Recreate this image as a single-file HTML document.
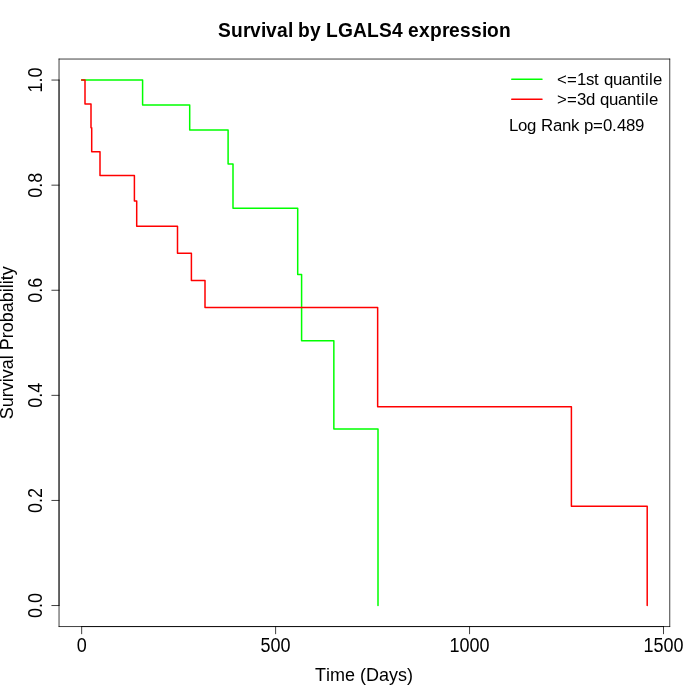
<!DOCTYPE html>
<html lang="en"><head><meta charset="utf-8"><title>Survival by LGALS4 expression</title>
<style>html,body{margin:0;padding:0;background:#fff;}svg{display:block;will-change:transform;}text{font-family:"Liberation Sans",Arial,Helvetica,sans-serif;fill:#000;}</style>
</head><body>
<svg width="700" height="700" viewBox="0 0 700 700">
<rect width="700" height="700" fill="#fff"/>
<g fill="none" stroke-width="1.5" stroke-linecap="round" stroke-linejoin="round">
<path d="M81.66 80.06 H142.60 V105.08 H189.70 V130.11 H228.10 V164.07 H233.00 V208.21 H297.70 V274.43 H301.60 V340.66 H333.85 V428.95 H378.00 V605.54" stroke="#00ff00"/>
<path d="M81.66 80.06 H85.00 V103.95 H91.00 V127.83 H91.70 V151.72 H100.00 V175.60 H134.40 V200.89 H136.70 V226.18 H177.50 V253.28 H191.40 V280.38 H205.00 V307.47 H377.65 V406.83 H571.40 V506.18 H647.20 V605.54" stroke="#ff0000"/>
</g>
<g fill="none" stroke="#000" stroke-width="0.75" stroke-linecap="round" stroke-linejoin="round">
<path d="M81.66 626.56 H663.51"/>
<path d="M81.66 626.56 v7.2"/>
<path d="M275.61 626.56 v7.2"/>
<path d="M469.56 626.56 v7.2"/>
<path d="M663.51 626.56 v7.2"/>
<path d="M59.04 605.54 V80.06"/>
<path d="M59.04 605.54 h-7.2"/>
<path d="M59.04 500.44 h-7.2"/>
<path d="M59.04 395.35 h-7.2"/>
<path d="M59.04 290.25 h-7.2"/>
<path d="M59.04 185.16 h-7.2"/>
<path d="M59.04 80.06 h-7.2"/>
<path d="M59.04 626.56 H669.76"/>
<path d="M669.76 626.56 V59.04"/>
<path d="M669.76 59.04 H59.04"/>
<path d="M59.04 59.04 V626.56"/>
<path d="M511.75 79.2 h30.24" stroke="#00ff00" stroke-width="1.5"/>
<path d="M511.75 99.36 h30.24" stroke="#ff0000" stroke-width="1.5"/>
</g>
<text transform="translate(81.66 651.60) scale(1 1.0944)" font-size="18px" x="-5">0</text>
<text transform="translate(275.61 651.60) scale(1 1.0944)" font-size="18px" x="-15 -5 5">500</text>
<text transform="translate(469.56 651.60) scale(1 1.0944)" font-size="18px" x="-20 -10 0 10">1000</text>
<text transform="translate(663.51 651.60) scale(1 1.0944)" font-size="18px" x="-20 -10 0 10">1500</text>
<text transform="translate(41.80 605.54) rotate(-90) scale(1 1.0944)" font-size="18px" x="-12.5 -2.5 2.5">0.0</text>
<text transform="translate(41.80 500.44) rotate(-90) scale(1 1.0944)" font-size="18px" x="-12.5 -2.5 2.5">0.2</text>
<text transform="translate(41.80 395.35) rotate(-90) scale(1 1.0944)" font-size="18px" x="-12.5 -2.5 2.5">0.4</text>
<text transform="translate(41.80 290.25) rotate(-90) scale(1 1.0944)" font-size="18px" x="-12.5 -2.5 2.5">0.6</text>
<text transform="translate(41.80 185.16) rotate(-90) scale(1 1.0944)" font-size="18px" x="-12.5 -2.5 2.5">0.8</text>
<text transform="translate(41.80 80.06) rotate(-90) scale(1 1.0944)" font-size="18px" x="-12.5 -2.5 2.5">1.0</text>
<text transform="translate(364.00 681.20) scale(1 1.0600)" font-size="18px" x="-49 -38 -34 -19 -9 -4 2 15 25 34 43">Time (Days)</text>
<text transform="translate(12.90 342.80) rotate(-90) scale(1 1.0600)" font-size="18px" x="-76.5 -64.5 -54.5 -48.5 -39.5 -35.5 -26.5 -16.5 -12.5 -7.5 4.5 10.5 20.5 30.5 40.5 50.5 54.5 58.5 62.5 67.5">Survival Probability</text>
<text transform="translate(364.40 37.00) scale(1 1.0625)" font-size="19.2px" font-weight="bold" x="-146.5 -133.5 -121.5 -114.5 -103.5 -98.5 -87.5 -76.5 -71.5 -66.5 -54.5 -43.5 -38.5 -26.5 -11.5 2.5 14.5 27.5 38.5 43.5 54.5 65.5 77.5 84.5 95.5 106.5 117.5 122.5 134.5">Survival by LGALS4 expression</text>
<text transform="translate(557.00 84.90) scale(1 1.0298)" font-size="16.8px" x="0 10 20 29 37 42 47 56 65 74 83 88 92 96">&lt;=1st quantile</text>
<text transform="translate(557.00 104.90) scale(1 1.0298)" font-size="16.8px" x="0 10 20 29 38 43 52 61 70 79 84 88 92">&gt;=3d quantile</text>
<text transform="translate(509.00 131.00) scale(1 1.0298)" font-size="16.8px" x="0 9 18 27 32 44 53 62 70 75 84 94 103 108 117 126">Log Rank p=0.489</text>
</svg>
</body></html>
